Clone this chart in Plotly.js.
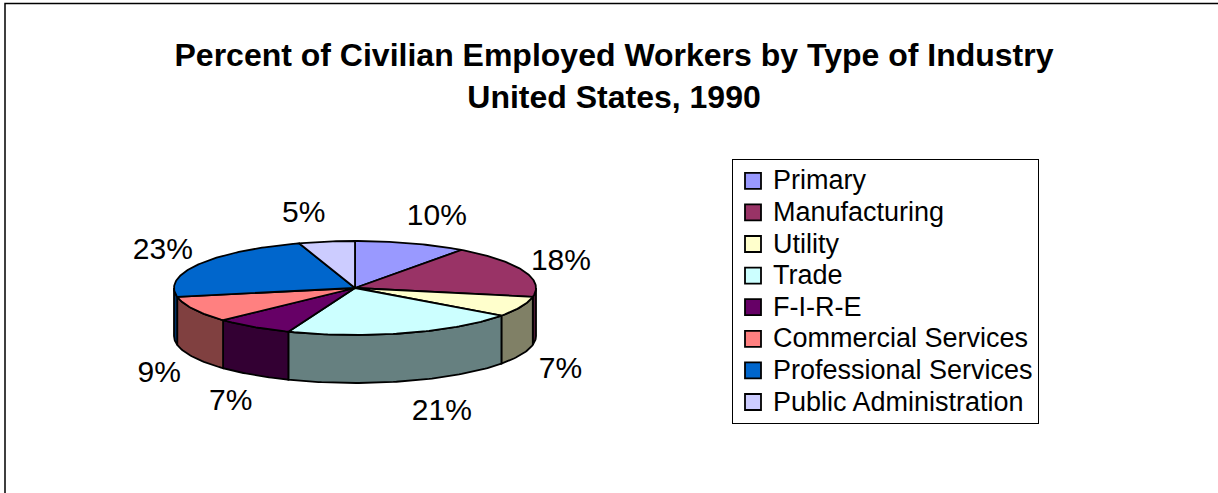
<!DOCTYPE html>
<html>
<head>
<meta charset="utf-8">
<script src="https://cdn.plot.ly/plotly-3.0.1.min.js"></script>
<style>
  html, body { margin: 0; padding: 0; background: #ffffff; }
  #chart { width: 1218px; height: 493px; }
</style>
</head>
<body>
<div id="chart"></div>
<script>
// ---------------- data ----------------
const categories = ['Primary', 'Manufacturing', 'Utility', 'Trade', 'F-I-R-E',
  'Commercial Services', 'Professional Services', 'Public Administration'];
const percents = [10, 18, 7, 21, 7, 9, 23, 5];
const topColors = ['#9999FF', '#993366', '#FFFFCC', '#CCFFFF', '#660066',
  '#FF8080', '#0066CC', '#CCCCFF'];
const titleText = 'Percent of Civilian Employed Workers by Type of Industry<br>United States, 1990';

// ---------------- geometry (layout constants) ----------------
const W = 1218, H = 493;
const PX = 181;               // pixels per unit (horizontal radius = 1 unit)
const cxPx = 355, cyPx = 288; // pie centre in page pixels
const RX = 1, RY = 47 / PX, DEPTH = 48 / PX;
const FONT = 'Liberation Sans, Arial, Helvetica, sans-serif';
const LEGEND_TEXT_PX = 27;

function darken(hex, f) {
  const n = parseInt(hex.slice(1), 16);
  const r = Math.round(((n >> 16) & 255) * f);
  const g = Math.round(((n >> 8) & 255) * f);
  const b = Math.round((n & 255) * f);
  return 'rgb(' + r + ',' + g + ',' + b + ')';
}
const sideColors = topColors.map(c => darken(c, 0.5));

const total = percents.reduce((a, b) => a + b, 0);
const deg = Math.PI / 180;
function ex(t) { return RX * Math.cos(t * deg); }
function ey(t) { return RY * Math.sin(t * deg); }
function arc(a, b) { // a > b, clockwise from a to b (degrees)
  const pts = [];
  const n = Math.max(2, Math.ceil(a - b));
  for (let i = 0; i <= n; i++) pts.push(a - (a - b) * i / n);
  return pts;
}

const sideTraces = [], topTraces = [];
const labX = [], labY = [], labT = [];
let cum = 0;
percents.forEach((v, i) => {
  const a = 90 - cum / total * 360;
  cum += v;
  const b = 90 - cum / total * 360;
  // visible front side: angles in [-180, 0]
  const sa = Math.min(a, 0), sb = Math.max(b, -180);
  if (sa > sb) {
    const top = arc(sa, sb);
    const xs = [], ys = [];
    top.forEach(t => { xs.push(ex(t)); ys.push(ey(t)); });
    top.slice().reverse().forEach(t => { xs.push(ex(t)); ys.push(ey(t) - DEPTH); });
    xs.push(xs[0]); ys.push(ys[0]);
    sideTraces.push({
      type: 'scatter', mode: 'lines', x: xs, y: ys, fill: 'toself',
      fillcolor: sideColors[i], line: { color: '#000', width: 1.8 },
      showlegend: false, hoverinfo: 'skip'
    });
  }
  const pts = arc(a, b);
  const xs = [0], ys = [0];
  pts.forEach(t => { xs.push(ex(t)); ys.push(ey(t)); });
  xs.push(0); ys.push(0);
  topTraces.push({
    type: 'scatter', mode: 'lines', x: xs, y: ys, fill: 'toself',
    fillcolor: topColors[i], line: { color: '#000', width: 1.8 },
    showlegend: false, hoverinfo: 'skip'
  });
  // label placement
  const m = (a + b) / 2;
  const c = Math.cos(m * deg), s = Math.sin(m * deg);
  labX.push((200 * c + 20 * Math.sign(c) + (s < 0 ? 12 * Math.abs(s) * Math.abs(s) : 0)) / PX);
  labY.push((76 * s - 2 - (s < 0 ? 50 : 0)) / PX);
  labT.push(v + '%');
});

const labelTrace = {
  type: 'scatter', mode: 'text', x: labX, y: labY, text: labT,
  textposition: 'middle center',
  textfont: { family: FONT, size: 30, color: '#000' },
  showlegend: false, hoverinfo: 'skip'
};

const legendTraces = categories.map((name, i) => ({
  type: 'scatter', mode: 'markers', x: [null], y: [null],
  name: '<span style="font-size:' + LEGEND_TEXT_PX + 'px">' + name + '</span>',
  marker: { symbol: 'square', size: 18, color: topColors[i], line: { color: '#000', width: 1.8 } },
  showlegend: true, hoverinfo: 'skip'
}));

const data = [...sideTraces, ...topTraces, labelTrace, ...legendTraces];

const layout = {
  width: W, height: H,
  margin: { l: 0, r: 0, t: 0, b: 0, pad: 0 },
  paper_bgcolor: '#ffffff', plot_bgcolor: 'rgba(0,0,0,0)',
  showlegend: true,
  xaxis: { visible: false, range: [-cxPx / PX, (W - cxPx) / PX], fixedrange: true, domain: [0, 1] },
  yaxis: { visible: false, range: [-(H - cyPx) / PX, cyPx / PX], fixedrange: true, domain: [0, 1] },
  title: {
    text: titleText,
    font: { family: FONT, size: 32, color: '#000', weight: 'bold' },
    x: 614 / W, xanchor: 'center', xref: 'container',
    y: 1 - 66 / H, yanchor: 'top', yref: 'container'
  },
  legend: {
    x: 732 / W, y: 1 - 159 / H, xanchor: 'left', yanchor: 'top',
    xref: 'paper', yref: 'paper',
    bgcolor: '#ffffff', bordercolor: '#000', borderwidth: 1,
    font: { family: FONT, size: 22, color: '#000' },
    traceorder: 'normal', itemclick: false, itemdoubleclick: false
  },
  shapes: [{
    type: 'rect', xref: 'paper', yref: 'paper',
    x0: 5 / W, x1: 1.2, y0: -0.2, y1: 1 - 3.5 / H,
    line: { color: '#000', width: 1.5 }, fillcolor: 'rgba(0,0,0,0)', layer: 'above'
  }]
};

Plotly.newPlot('chart', data, layout, { staticPlot: true, displayModeBar: false });
</script>
</body>
</html>
